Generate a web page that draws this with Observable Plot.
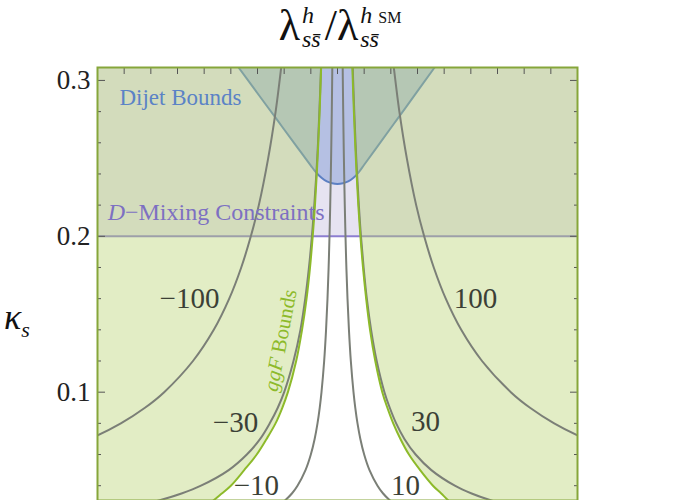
<!DOCTYPE html>
<html>
<head>
<meta charset="utf-8">
<script src="https://cdn.jsdelivr.net/npm/d3@7"></script>
<script src="https://cdn.jsdelivr.net/npm/@observablehq/plot@0.6"></script>
<style>
  body { margin: 0; background: white; }
  #wrap { position: relative; width: 680px; height: 500px; overflow: hidden; font-family: "Liberation Serif", serif; }
  #title { height: 60px; display: flex; justify-content: center; align-items: flex-start; padding-top: 3px; box-sizing: border-box; color: #111; padding-left: 4px; }
  #title .big { font-size: 44px; line-height: 46px; }
  #title .stack { display: inline-flex; flex-direction: column; font-size: 24px; line-height: 24px; margin-left: 2px; margin-right: 4px; }
  #title .stack > * { display: block; height: 24px; }
  #title .sm { font-size: 16px; font-style: normal; }
  #ylab { position: absolute; left: 4px; top: 296px; font-size: 36px; font-style: italic; color: #111; }
  #ylab sub { font-size: 22px; }
</style>
</head>
<body>
<div id="wrap">
  <div id="title"><span class="big">λ</span><span class="stack"><i>h</i><i>ss̄</i></span><span class="big">/λ</span><span class="stack"><span><i>h</i> <span class="sm">SM</span></span><i>ss̄</i></span></div>
  <div id="ylab">κ<sub>s</sub></div>
  <div id="chart"></div>
</div>
<script>
// ---- axes / domains ----
const xDomain = [-0.9, 0.9];
const yDomain = [0.0305, 0.3083];
const yMajor = [0.1, 0.2, 0.3];
const yMinor = [0.04, 0.06, 0.08, 0.12, 0.14, 0.16, 0.18, 0.22, 0.24, 0.26, 0.28];
const xTicks = [-0.8, -0.7, -0.6, -0.5, -0.4, -0.3, -0.2, -0.1, 0, 0.1, 0.2, 0.3, 0.4, 0.5, 0.6, 0.7, 0.8];

// ---- contour curves, sampled at kappa_s values ----
const kappa = [0.027, 0.0305, 0.035, 0.04, 0.05, 0.06, 0.07, 0.08, 0.09, 0.10, 0.12, 0.14, 0.16, 0.18, 0.20, 0.22, 0.25, 0.28, 0.30, 0.32];
const cM100 = [null, null, null, null, null, -1.083, -0.929, -0.8125, -0.722, -0.65, -0.542, -0.464, -0.406, -0.361, -0.325, -0.295, -0.26, -0.232, -0.217, -0.203];
const cP100 = [null, null, null, null, null, 1.083, 0.929, 0.8125, 0.722, 0.65, 0.542, 0.464, 0.406, 0.361, 0.325, 0.295, 0.26, 0.232, 0.217, 0.203];
const cM30 = [-0.76, -0.67, -0.585, -0.512, -0.408, -0.34, -0.29, -0.254, -0.224, -0.20, -0.165, -0.139, -0.121, -0.107, -0.096, -0.087, -0.076, -0.068, -0.0635, -0.0595];
const cP30 = [0.652, 0.577, 0.503, 0.44, 0.352, 0.293, 0.251, 0.22, 0.196, 0.176, 0.147, 0.126, 0.11, 0.098, 0.088, 0.08, 0.0704, 0.0629, 0.0587, 0.055];
const cM10 = [-0.222, -0.197, -0.171, -0.15, -0.12, -0.10, -0.0857, -0.075, -0.0667, -0.06, -0.05, -0.0429, -0.0375, -0.0333, -0.03, -0.0273, -0.024, -0.0214, -0.02, -0.0188];
const cP10 = [0.222, 0.197, 0.171, 0.15, 0.12, 0.10, 0.0857, 0.075, 0.0667, 0.06, 0.05, 0.0429, 0.0375, 0.0333, 0.03, 0.0273, 0.024, 0.0214, 0.02, 0.0188];

// ---- ggF bound (left and right branches) ----
const ggfLeft = [-0.50, -0.466, -0.434, -0.40, -0.35, -0.303, -0.266, -0.2325, -0.207, -0.186, -0.155, -0.133, -0.116, -0.103, -0.093, -0.0845, -0.0748, -0.067, -0.063, -0.059];
const ggfRight = [0.445, 0.416, 0.389, 0.358, 0.31, 0.268, 0.236, 0.209, 0.187, 0.168, 0.1417, 0.122, 0.1075, 0.0956, 0.086, 0.078, 0.0688, 0.0614, 0.0573, 0.0538];

// ---- dijet bound ----
const dijetX = [-0.42, -0.371, -0.30, -0.22, -0.15, -0.10, -0.086, -0.06, -0.04, -0.02, 0, 0.02, 0.04, 0.06, 0.08, 0.10, 0.15, 0.22, 0.30, 0.364, 0.41];
const dijetK = [0.3195, 0.3083, 0.2918, 0.2732, 0.2569, 0.2454, 0.2422, 0.2375, 0.2352, 0.2340, 0.2336, 0.2340, 0.2352, 0.2375, 0.2412, 0.2459, 0.2577, 0.2742, 0.2931, 0.3083, 0.3193];

// ---- D-mixing bound ----
const dMixing = 0.2;

// ---- labels ----
const contourLabels = ["−100", "100", "−30", "30", "−10", "10"];
const contourLabelX = [-0.555, 0.5175, -0.3825, 0.33, -0.304, 0.255];
const contourLabelK = [0.160, 0.160, 0.0806, 0.0812, 0.0401, 0.0401];

const rows = kappa.map((k, i) => ({k, gL: ggfLeft[i], gR: ggfRight[i]}));
const dijet = dijetX.map((x, i) => ({x, k: dijetK[i]}));
const curve = xs => kappa.map((k, i) => ({k, x: xs[i]})).filter(d => d.x != null);
const contourSets = [cM100, cP100, cM30, cP30, cM10, cP10];
const labels = contourLabels.map((t, i) => ({t, x: contourLabelX[i], k: contourLabelK[i]}));
const yTop = () => yDomain[1] + 0.05;

const gray = "#7b7f77";
const marks = [
  // dijet region (drawn first, overlaid by the others)
  Plot.areaY(dijet, {x: "x", y1: "k", y2: yTop, curve: "catmull-rom", fill: "#6a96d6", fillOpacity: 0.42, clip: true}),
  Plot.line(dijet, {x: "x", y: "k", curve: "catmull-rom", stroke: "#4f80c4", strokeWidth: 2, clip: true}),
  // D-mixing region
  Plot.rect([dMixing], {x1: () => xDomain[0], x2: () => xDomain[1], y1: d => d, y2: yTop, fill: "#8f7fc0", fillOpacity: 0.22, clip: true}),
  Plot.ruleY([dMixing], {stroke: "#8c7ed0", strokeWidth: 2}),
  // ggF excluded region
  Plot.areaX(rows, {y: "k", x1: () => xDomain[0] - 0.05, x2: "gL", curve: "catmull-rom", fill: "#b7d26f", fillOpacity: 0.4, clip: true}),
  Plot.areaX(rows, {y: "k", x1: "gR", x2: () => xDomain[1] + 0.05, curve: "catmull-rom", fill: "#b7d26f", fillOpacity: 0.4, clip: true}),
  // contour lines
  ...contourSets.map(xs => Plot.line(curve(xs), {x: "x", y: "k", curve: "catmull-rom", stroke: gray, strokeWidth: 2, clip: true})),
  // ggF bound lines
  Plot.line(rows, {x: "gL", y: "k", curve: "catmull-rom", stroke: "#8dba2a", strokeWidth: 2, clip: true}),
  Plot.line(rows, {x: "gR", y: "k", curve: "catmull-rom", stroke: "#8dba2a", strokeWidth: 2, clip: true}),
  // labels
  Plot.text(labels, {x: "x", y: "k", text: "t", fontSize: 29, fill: "#3b4036", fontFamily: "Liberation Serif"}),
  Plot.text(["Dijet Bounds"], {x: () => -0.589, y: () => 0.2891, text: d => d, fontSize: 23, fill: "#5b83c6", fontFamily: "Liberation Serif"}),
  Plot.text(["D−Mixing Constraints"], {x: () => -0.862, y: () => 0.2153, text: d => d, textAnchor: "start", fontSize: 24, fill: "#7d70c2", fontFamily: "Liberation Serif"}),
  Plot.text(["ggF Bounds"], {x: () => -0.214, y: () => 0.1332, text: d => d, rotate: -79, fontSize: 21, fill: "#8dba2a", fontFamily: "Liberation Serif"}),
  // axes
  Plot.axisY(yMajor, {anchor: "left", tickSize: 0, tickPadding: 7, fontSize: 27, tickFormat: d => d.toFixed(1), label: null, fill: "#222"}),
  Plot.axisY(yMajor, {anchor: "left", tickSize: -8, tickFormat: () => "", label: null, stroke: "#555"}),
  Plot.axisY(yMinor, {anchor: "left", tickSize: -4, tickFormat: () => "", label: null, stroke: "#555"}),
  Plot.axisY(yMajor, {anchor: "right", tickSize: -8, tickFormat: () => "", label: null, stroke: "#555"}),
  Plot.axisY(yMinor, {anchor: "right", tickSize: -4, tickFormat: () => "", label: null, stroke: "#555"}),
  Plot.axisX(xTicks, {anchor: "top", tickSize: -6, tickFormat: () => "", label: null, stroke: "#555"}),
  Plot.frame({stroke: "#86a63a", strokeWidth: 2})
];

const chart = Plot.plot({
  width: 680,
  height: 440,
  marginTop: 7,
  marginBottom: 0,
  marginLeft: 97,
  marginRight: 103,
  x: {domain: xDomain},
  y: {domain: yDomain},
  style: {fontFamily: "Liberation Serif", background: "white", overflow: "visible"},
  marks
});

// italic parts of annotations
chart.querySelectorAll("text").forEach(t => {
  if (t.textContent === "D−Mixing Constraints") {
    t.textContent = "";
    const a = document.createElementNS("http://www.w3.org/2000/svg", "tspan");
    a.setAttribute("font-style", "italic"); a.textContent = "D";
    const b = document.createElementNS("http://www.w3.org/2000/svg", "tspan");
    b.textContent = "−Mixing Constraints";
    t.appendChild(a); t.appendChild(b);
  } else if (t.textContent === "ggF Bounds") {
    t.textContent = "";
    const a = document.createElementNS("http://www.w3.org/2000/svg", "tspan");
    a.setAttribute("font-style", "italic"); a.textContent = "ggF";
    const b = document.createElementNS("http://www.w3.org/2000/svg", "tspan");
    b.textContent = " Bounds";
    t.appendChild(a); t.appendChild(b);
  }
});
document.getElementById("chart").appendChild(chart);
</script>
</body>
</html>
